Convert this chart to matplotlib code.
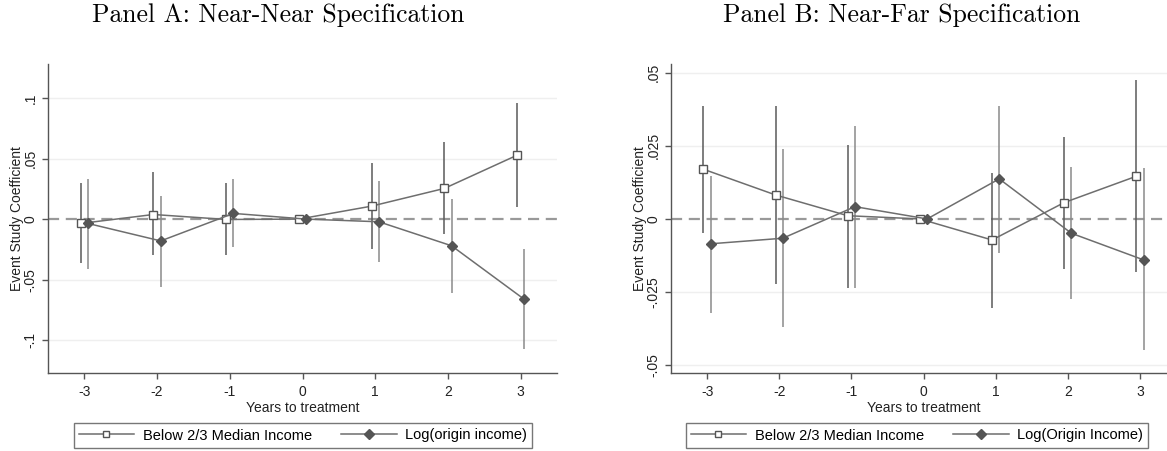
import matplotlib
matplotlib.use("Agg")
import matplotlib.pyplot as plt
from matplotlib.lines import Line2D
import numpy as np

plt.rcParams['font.family'] = ['Liberation Sans', 'DejaVu Sans']

years = [-3, -2, -1, 0, 1, 2, 3]
x_ticklabels = ['-3', '-2', '-1', '0', '1', '2', '3']

# Panel A: Near-Near
a_below = [-0.0036, 0.0038, -0.0003, 0.0, 0.0107, 0.0253, 0.0527]
a_below_hi = [0.0294, 0.0385, 0.0294, 0.0, 0.0460, 0.0637, 0.0959]
a_below_lo = [-0.0365, -0.0300, -0.0300, 0.0, -0.0250, -0.0126, 0.0102]
a_log = [-0.0036, -0.0180, 0.0047, 0.0, -0.0022, -0.0220, -0.0662]
a_log_hi = [0.0335, 0.0192, 0.0327, 0.0, 0.0316, 0.0170, -0.0247]
a_log_lo = [-0.0412, -0.0558, -0.0234, 0.0, -0.0357, -0.0613, -0.1074]
a_yticks = [-0.1, -0.05, 0.0, 0.05, 0.1]
a_yticklabels = ['-.1', '-.05', '0', '.05', '.1']

# Panel B: Near-Far
b_below = [0.0170, 0.0082, 0.0011, 0.0, -0.0072, 0.0056, 0.0146]
b_below_hi = [0.0387, 0.0386, 0.0252, 0.0, 0.0158, 0.0281, 0.0475]
b_below_lo = [-0.0049, -0.0222, -0.0235, 0.0, -0.0303, -0.0170, -0.0183]
b_log = [-0.0085, -0.0066, 0.0042, 0.0, 0.0137, -0.0049, -0.0140]
b_log_hi = [0.0147, 0.0238, 0.0318, 0.0, 0.0388, 0.0178, 0.0173]
b_log_lo = [-0.0322, -0.0370, -0.0237, 0.0, -0.0115, -0.0274, -0.0450]
b_yticks = [-0.05, -0.025, 0.0, 0.025, 0.05]
b_yticklabels = ['-.05', '-.025', '0', '.025', '.05']

titles = ['Panel A: Near-Near Specification', 'Panel B: Near-Far Specification']
labels_a = ['Below 2/3 Median Income', 'Log(origin income)']
labels_b = ['Below 2/3 Median Income', 'Log(Origin Income)']

W, H = 1167, 451
fig = plt.figure(figsize=(W / 100, H / 100), dpi=100)

def px_axes(left, right, top, bottom):
    return fig.add_axes([left / W, 1 - bottom / H, (right - left) / W, (bottom - top) / H])

ax_a = px_axes(48, 557, 64, 373)
ax_b = px_axes(671, 1176, 64, 373)

off = 0.05
line_c = '#6e6e6e'
ci_sq = '#5a5a5a'
ci_di = '#8a8a8a'

def draw(ax, below, bhi, blo, logv, lhi, llo, yticks, yticklabels, ylim, labels,
         title, titlex, legx):
    xs = np.array(years, dtype=float)
    ax.axhline(0, color='#999999', lw=1.6, ls=(0, (5, 3)), zorder=1)
    for t in yticks:
        if t != 0:
            ax.axhline(t, color='#efefef', lw=1.0, zorder=0)
    ax.vlines(xs - off, blo, bhi, color=ci_sq, lw=1.1, zorder=2)
    ax.vlines(xs + off, llo, lhi, color=ci_di, lw=1.1, zorder=2)
    ax.plot(xs - off, below, color=line_c, lw=1.1, marker='s', ms=5.3,
            mfc='white', mec='#555555', mew=1.0, zorder=3)
    ax.plot(xs + off, logv, color=line_c, lw=1.1, marker='D', ms=5.6,
            mfc='#555555', mec='#555555', zorder=3)
    ax.set_xlim(-3.5, 3.5)
    ax.set_ylim(*ylim)
    ax.set_xticks(years)
    ax.set_xticklabels(x_ticklabels, fontsize=10)
    ax.set_yticks(yticks)
    ax.set_yticklabels(yticklabels, fontsize=10, rotation=90, va='center')
    for s in ['top', 'right']:
        ax.spines[s].set_visible(False)
    for s in ['left', 'bottom']:
        ax.spines[s].set_color('#555555')
        ax.spines[s].set_linewidth(1.0)
    ax.tick_params(axis='both', colors='#555555', labelcolor='#222222', length=4, width=1.0)
    ax.tick_params(axis='x', pad=5)
    ax.set_xlabel('Years to treatment', fontsize=10, color='#222222', labelpad=1)
    ax.set_ylabel('Event Study Coefficient', fontsize=10, color='#222222', labelpad=0)
    handles = [
        Line2D([], [], color=line_c, lw=1.1, marker='s', ms=4.5, mfc='white', mec='#555555'),
        Line2D([], [], color=line_c, lw=1.1, marker='D', ms=5, mfc='#555555', mec='#555555'),
    ]
    leg = fig.legend(handles, labels, loc='center', bbox_to_anchor=(legx / W, 1 - 435.5 / H),
                     ncol=2, fontsize=10.5, frameon=True, fancybox=False, edgecolor='#555555',
                     handlelength=3.8, columnspacing=2.0, handletextpad=0.6, borderpad=0.35,
                     borderaxespad=0)
    leg.get_frame().set_linewidth(1.0)
    fig.text(titlex / W, 1 - 22 / H, title, ha='center', va='baseline',
             fontsize=18.5, family='cmr10')

draw(ax_a, a_below, a_below_hi, a_below_lo, a_log, a_log_hi, a_log_lo,
     a_yticks, a_yticklabels, (-0.127, 0.128), labels_a, titles[0], 278, 303)
draw(ax_b, b_below, b_below_hi, b_below_lo, b_log, b_log_hi, b_log_lo,
     b_yticks, b_yticklabels, (-0.0527, 0.053), labels_b, titles[1], 902, 917)

fig.savefig('out.png', dpi=100)
